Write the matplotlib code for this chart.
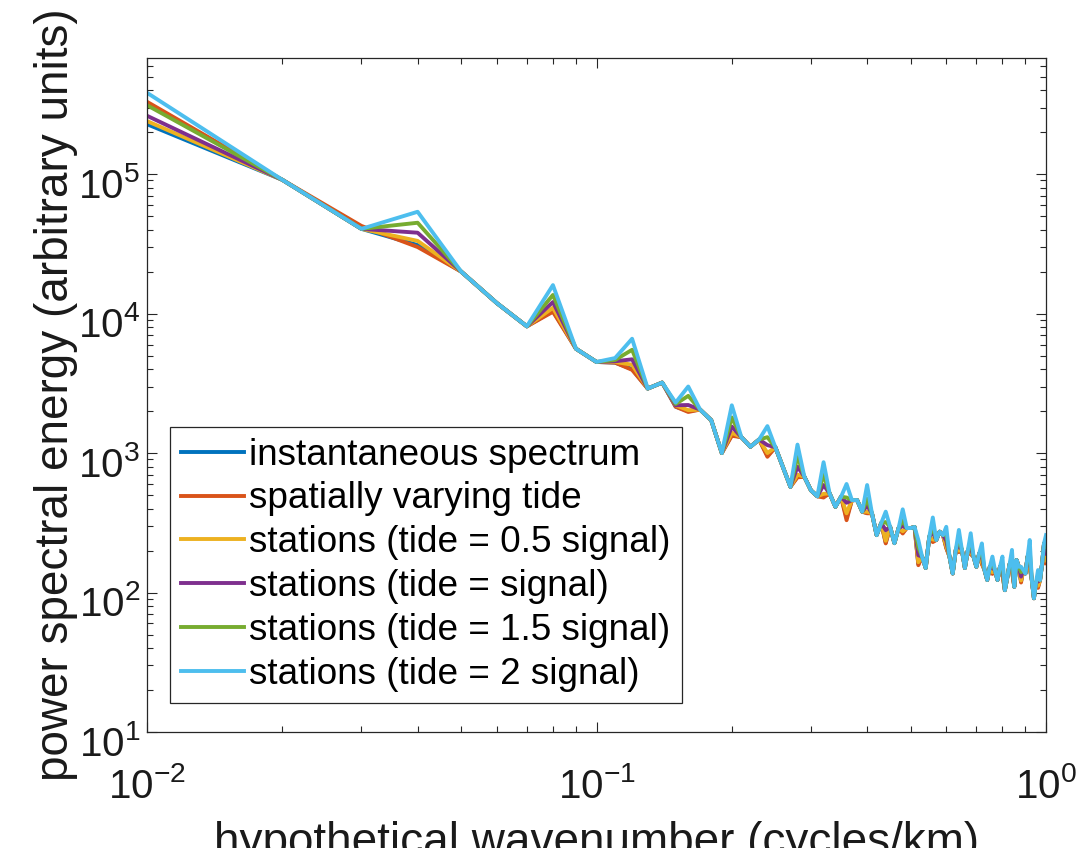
import matplotlib
matplotlib.use('Agg')
import matplotlib.pyplot as plt
import matplotlib.transforms as mtransforms
import numpy as np
from matplotlib.ticker import LogLocator, NullFormatter

plt.rcParams['font.family'] = ['Liberation Sans', 'DejaVu Sans']
plt.rcParams['mathtext.fontset'] = 'custom'
plt.rcParams['mathtext.rm'] = 'Liberation Sans'
plt.rcParams['mathtext.it'] = 'Liberation Sans:italic'
plt.rcParams['mathtext.bf'] = 'Liberation Sans:bold'

# wavenumber grid (cycles/km)
k = np.arange(1, 101) / 100.0

# instantaneous spectrum
instant = [2.28e5, 9.1e4, 4.05e4, 3.1e4, 2.0e4, 1.19e4, 8.1e3, 1.05e4, 5.6e3, 4.5e3,
           4.45e3, 4.0e3, 2.9e3, 3.2e3, 2.15e3, 2.0e3, 2.05e3, 1.72e3, 1.0e3, 1.35e3,
           1.3e3, 1.11e3, 1.25e3, 960, 1.1e3, 790, 573, 680, 676, 540,
           490, 490, 514, 412, 486, 345, 460, 460, 380, 372,
           370, 258, 315, 228, 296, 226, 290, 270, 290, 290,
           295, 160, 181, 150, 251, 235, 238, 273, 258, 210,
           181, 137, 202, 197, 202, 150, 200, 190, 181, 153,
           190, 162, 145, 123, 153, 138, 145, 123, 153, 136,
           104, 128, 160, 145, 110, 171, 153, 120, 145, 137,
           181, 152, 123, 91, 118, 110, 123, 160, 225, 165]

# wavenumbers where the tide-contaminated spectra depart from the instantaneous one
peak_k = [0.01, 0.03, 0.04, 0.08, 0.11, 0.12, 0.15, 0.16, 0.20, 0.24, 0.28, 0.32, 0.36,
          0.40, 0.44, 0.48, 0.52, 0.56, 0.60, 0.64, 0.68, 0.72, 0.76, 0.80, 0.84,
          0.88, 0.92, 0.96, 1.00]
spatial_pk = [3.30e5, 4.25e4, 3.0e4, 1.03e4, 4.45e3, 3.95e3, 2.15e3, 1.97e3, 1.33e3, 940, 670, 480, 330,
              370, 225, 265, 157, 230, 208, 195, 188, 160, 136, 134, 143,
              118, 150, 108, 162]
half_pk = [2.40e5, 4.05e4, 3.32e4, 1.10e4, 4.5e3, 4.3e3, 2.2e3, 2.03e3, 1.40e3, 1.0e3, 700, 510, 370,
           380, 235, 275, 165, 240, 215, 200, 195, 165, 140, 138, 148,
           122, 155, 112, 170]
one_pk = [2.62e5, 4.05e4, 3.80e4, 1.21e4, 4.55e3, 4.7e3, 2.2e3, 2.21e3, 1.55e3, 1.14e3, 800, 590, 440,
          420, 280, 300, 185, 270, 235, 220, 210, 180, 150, 148, 160,
          130, 175, 120, 190]
onehalf_pk = [3.12e5, 4.05e4, 4.48e4, 1.36e4, 4.65e3, 5.5e3, 2.25e3, 2.57e3, 1.80e3, 1.30e3, 950, 700, 480,
              470, 320, 330, 210, 300, 260, 245, 230, 195, 160, 160, 175,
              140, 200, 130, 215]
two_pk = [3.83e5, 4.05e4, 5.37e4, 1.60e4, 4.8e3, 6.6e3, 2.3e3, 3.0e3, 2.2e3, 1.56e3, 1.15e3, 860, 600,
          590, 380, 395, 238, 345, 296, 281, 266, 225, 181, 181, 202,
          153, 238, 145, 258]

labels = ['instantaneous spectrum', 'spatially varying tide',
          'stations (tide = 0.5 signal)', 'stations (tide = signal)',
          'stations (tide = 1.5 signal)', 'stations (tide = 2 signal)']
colors = ['#0072BD', '#D95319', '#EDB120', '#7E2F8E', '#77AC30', '#4DBEEE']

idx = np.rint(np.array(peak_k) * 100).astype(int) - 1
spectra = [np.array(instant, dtype=float)]
for pk in [spatial_pk, half_pk, one_pk, onehalf_pk, two_pk]:
    s = np.array(instant, dtype=float)
    s[idx] = pk
    spectra.append(s)

fig = plt.figure(figsize=(10.89, 8.48), dpi=100)
ax = fig.add_axes([147/1089, 116/848, 899/1089, 674/848])

for s, lab, c in zip(spectra, labels, colors):
    ax.loglog(k, s, color=c, lw=2.8, label=lab)

ax.set_xlim(0.01, 1)
ax.set_ylim(10, 6.8e5)

ax.xaxis.set_major_locator(LogLocator(base=10, numticks=10))
ax.yaxis.set_major_locator(LogLocator(base=10, numticks=10))
ax.xaxis.set_minor_locator(LogLocator(base=10, subs=np.arange(2, 10), numticks=20))
ax.yaxis.set_minor_locator(LogLocator(base=10, subs=np.arange(2, 10), numticks=20))
ax.xaxis.set_minor_formatter(NullFormatter())
ax.yaxis.set_minor_formatter(NullFormatter())

ax.tick_params(which='both', direction='in', top=True, right=True,
               colors='#262626', labelcolor='#1a1a1a', labelsize=29, width=0.8)
ax.tick_params(which='major', length=7)
ax.tick_params(which='minor', length=4)
ax.tick_params(axis='x', pad=25)
ax.tick_params(axis='y', pad=5)
for sp in ax.spines.values():
    sp.set_color('#262626')
    sp.set_linewidth(0.9)

ax.set_xlabel('hypothetical wavenumber (cycles/km)', fontsize=33, labelpad=11, color='#1a1a1a')
ax.set_ylabel('power spectral energy (arbitrary units)', fontsize=33, labelpad=0, color='#1a1a1a')

leg = ax.legend(loc='lower left', bbox_to_anchor=(0.0256, 0.043), borderaxespad=0,
                fontsize=26.6, handlelength=1.7, handletextpad=0.15, borderpad=0.3,
                labelspacing=0.24, fancybox=False, framealpha=1, edgecolor='#262626')
leg.get_frame().set_linewidth(0.9)

# MATLAB centres the whole "10^n" label on the tick, a bit lower than matplotlib
fig.canvas.draw()
shift = mtransforms.ScaledTranslation(0, -8/100, fig.dpi_scale_trans)
for t in ax.yaxis.get_major_ticks():
    t.label1.set_transform(t.label1.get_transform() + shift)

fig.savefig('out.png', dpi=100)
